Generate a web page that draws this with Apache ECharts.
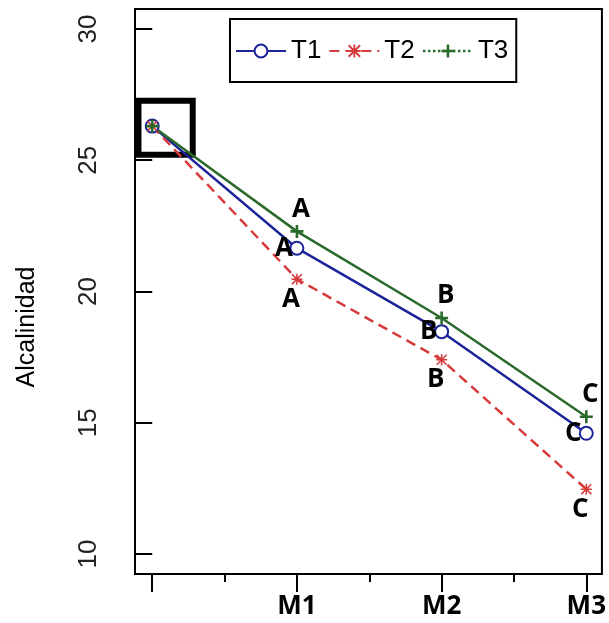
<!DOCTYPE html>
<html>
<head>
<meta charset="utf-8">
<script src="https://cdn.jsdelivr.net/npm/echarts@6/dist/echarts.min.js"></script>
<style>
html,body{margin:0;padding:0;background:#fff;}
#chart{width:609px;height:623px;}
</style>
</head>
<body>
<div id="chart"></div>
<script>
// ---- data ----
var xPositions = [0, 1, 2, 3];
var xTickLabels = ['', 'M1', 'M2', 'M3'];
var seriesNames = ['T1', 'T2', 'T3'];
var valuesT1 = [26.3, 21.65, 18.47, 14.6];
var valuesT2 = [26.3, 20.47, 17.4, 12.47];
var valuesT3 = [26.3, 22.29, 18.99, 15.23];
var lettersT1 = ['', 'A', 'B', 'C'];
var lettersT2 = ['', 'A', 'B', 'C'];
var lettersT3 = ['', 'A', 'B', 'C'];
var yTickValues = [10, 15, 20, 25, 30];
var xMajorTicks = [0, 1, 2, 3];
var xMinorTicks = [0.5, 1.5, 2.5];
var highlightBox = [[-0.095, 27.27], [0.28, 25.21]];
var yAxisTitle = 'Alcalinidad';

// ---- styles ----
var BLUE = '#1c249a', RED = '#d63a3a', GREEN = '#2a6a2a';
var asterisk = 'path://M4.3,0H5.7V10H4.3Z M0,4.3H10V5.7H0Z M1,0L10,9L9,10L0,1Z M9,0L10,1L1,10L0,9Z';
var plus = 'path://M4,0H6V10H4Z M0,4H10V6H0Z';

function pairs(vals){ return xPositions.map(function(x,i){ return [x, vals[i]]; }); }
function letterLabel(letters, offset){
  return {
    show: true, position: 'inside', offset: offset,
    formatter: function(p){ return letters[p.dataIndex]; },
    color: '#000', fontFamily: 'Open Sans', fontWeight: 'bold', fontSize: 26
  };
}

var chart = echarts.init(document.getElementById('chart'), null, {renderer:'canvas'});
var option = {
  animation: false,
  backgroundColor: '#fff',
  grid: {left: 135, right: 5, top: 9, bottom: 49, show: true, borderColor: '#000', borderWidth: 2, backgroundColor: 'transparent'},
  legend: {
    left: 230, top: 19,
    borderColor: '#000', borderWidth: 2,
    padding: [19, 8, 18, 5],
    itemWidth: 50, itemHeight: 16, itemGap: 7,
    textStyle: {fontFamily: 'Liberation Sans, Arial', fontSize: 26, color: '#000'},
    data: [
      {name: 'T1'},
      {name: 'T2'},
      {name: 'T3', lineStyle: {type: 'dotted', width: 2.5}}
    ]
  },
  graphic: [{
    type: 'text', x: 27, y: 327, rotation: Math.PI/2,
    style: {text: yAxisTitle, fontFamily: 'Liberation Sans, Arial', fontSize: 25, fill: '#000', align: 'center', verticalAlign: 'middle'}
  }],
  xAxis: [{
    type: 'value', min: -0.119, max: 3.108, position: 'bottom',
    axisLine: {show: false}, splitLine: {show: false},
    axisTick: {show: true, customValues: xMajorTicks, length: 18, lineStyle: {color: '#000', width: 2}},
    axisLabel: {show: true, customValues: xMajorTicks, margin: 20,
      formatter: function(v){ var i = xPositions.indexOf(v); return i >= 0 ? xTickLabels[i] : ''; },
      fontFamily: 'Open Sans', fontWeight: 'bold', fontSize: 26, color: '#000'}
  }, {
    type: 'value', min: -0.119, max: 3.108, position: 'bottom',
    axisLine: {show: false}, splitLine: {show: false},
    axisTick: {show: true, customValues: xMinorTicks, length: 8, lineStyle: {color: '#000', width: 2}},
    axisLabel: {show: false}
  }],
  yAxis: {
    type: 'value', min: 9.24, max: 30.76,
    axisLine: {show: false}, splitLine: {show: false},
    axisTick: {show: true, customValues: yTickValues, length: 17, lineStyle: {color: '#000', width: 2}},
    axisLabel: {show: true, customValues: yTickValues, rotate: 90, margin: 33,
      fontFamily: 'Liberation Sans, Arial', fontSize: 26, color: '#222'}
  },
  series: [{
    name: 'T1', type: 'line', data: pairs(valuesT1),
    symbol: 'emptyCircle', symbolSize: 13,
    lineStyle: {color: BLUE, width: 2.5}, itemStyle: {color: BLUE, borderWidth: 2.2},
    label: letterLabel(lettersT1, [-13, 0]),
    markArea: {silent: true,
      itemStyle: {color: 'rgba(0,0,0,0)', borderColor: '#000', borderWidth: 6},
      data: [[{coord: highlightBox[0]}, {coord: highlightBox[1]}]]}
  }, {
    name: 'T2', type: 'line', data: pairs(valuesT2),
    symbol: asterisk, symbolSize: 11,
    lineStyle: {color: RED, width: 2.5, type: [10, 6]}, itemStyle: {color: RED},
    label: letterLabel(lettersT2, [-6, 20])
  }, {
    name: 'T3', type: 'line', data: pairs(valuesT3),
    symbol: plus, symbolSize: 13,
    lineStyle: {color: GREEN, width: 2.5}, itemStyle: {color: GREEN},
    label: letterLabel(lettersT3, [4, -22])
  }]
};
chart.setOption(option);
</script>
</body>
</html>
